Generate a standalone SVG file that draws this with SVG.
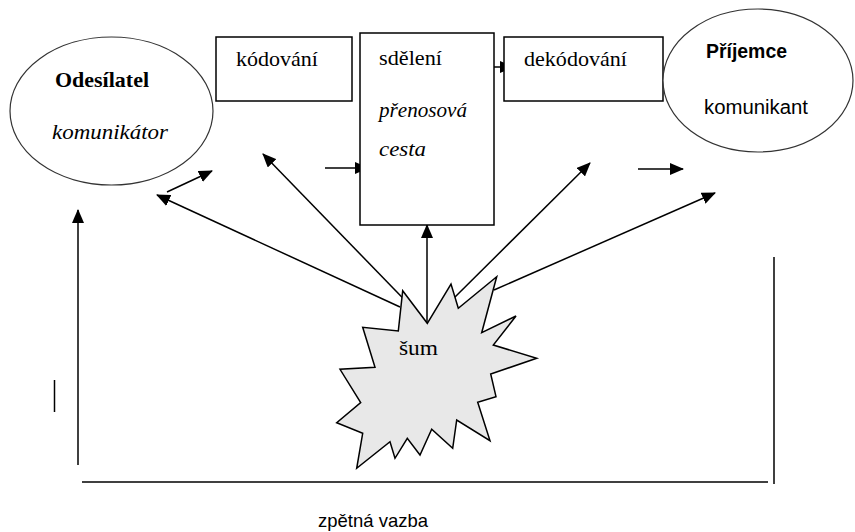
<svg xmlns="http://www.w3.org/2000/svg" width="855" height="532" viewBox="0 0 855 532">
<defs>
<marker id="ah" viewBox="0 0 14 12" refX="13" refY="6" markerWidth="14" markerHeight="12" markerUnits="userSpaceOnUse" orient="auto">
<path d="M0,0 L14,6 L0,12 Z" fill="#000"/>
</marker>
<style>
.box{fill:#fff;stroke:#000;stroke-width:1.5}
.ell{fill:#fff;stroke:#333;stroke-width:1.2}
.ln{stroke:#000;stroke-width:1.5;fill:none}
.arr{stroke:#000;stroke-width:1.5;fill:none}
</style>
</defs>
<rect width="855" height="532" fill="#fff"/>
<g id="connectors">
<line class="arr" x1="400" y1="307" x2="157" y2="195" marker-end="url(#ah)"/>
<line class="arr" x1="167" y1="192" x2="212" y2="171" marker-end="url(#ah)"/>
<line class="arr" x1="427" y1="323" x2="263" y2="154" marker-end="url(#ah)"/>
<line class="arr" x1="427" y1="323" x2="427" y2="225" marker-end="url(#ah)"/>
<line class="arr" x1="452" y1="300" x2="590" y2="163" marker-end="url(#ah)"/>
<line class="arr" x1="494" y1="290" x2="715" y2="193" marker-end="url(#ah)"/>
<line class="arr" x1="325" y1="168" x2="368" y2="168" marker-end="url(#ah)"/>
<line class="arr" x1="482" y1="67" x2="513" y2="67" marker-end="url(#ah)"/>
<line class="arr" x1="638" y1="169" x2="683" y2="169" marker-end="url(#ah)"/>
<line class="arr" x1="78" y1="465" x2="78" y2="210" marker-end="url(#ah)"/>
<line class="ln" x1="82" y1="482" x2="768" y2="482" stroke-width="2"/>
<line class="ln" x1="774" y1="257" x2="774" y2="484"/>
<line class="ln" x1="54.5" y1="380" x2="54.5" y2="412" stroke-width="2.5"/>
</g>
<g id="odesilatel">
<ellipse class="ell" cx="111.5" cy="111" rx="101.5" ry="74"/>
<text x="55" y="87" font-family="'Liberation Serif', 'Times New Roman', serif" font-size="22" font-weight="bold" textLength="94" lengthAdjust="spacingAndGlyphs">Odesílatel</text>
<text x="52" y="139" font-family="'Liberation Serif', 'Times New Roman', serif" font-size="22" font-style="italic" textLength="116" lengthAdjust="spacingAndGlyphs">komunikátor</text>
</g>
<g id="kodovani">
<rect class="box" x="216" y="37" width="136" height="64"/>
<text x="236" y="66" font-family="'Liberation Serif', 'Times New Roman', serif" font-size="22" textLength="82" lengthAdjust="spacingAndGlyphs">kódování</text>
</g>
<g id="sdeleni">
<rect class="box" x="360" y="33" width="134" height="192"/>
<text x="379" y="65" font-family="'Liberation Serif', 'Times New Roman', serif" font-size="22" textLength="63" lengthAdjust="spacingAndGlyphs">sdělení</text>
<text x="379" y="117" font-family="'Liberation Serif', 'Times New Roman', serif" font-size="22" font-style="italic" textLength="88" lengthAdjust="spacingAndGlyphs">přenosová</text>
<text x="379" y="156" font-family="'Liberation Serif', 'Times New Roman', serif" font-size="22" font-style="italic" textLength="47" lengthAdjust="spacingAndGlyphs">cesta</text>
</g>
<g id="dekodovani">
<rect class="box" x="504" y="37" width="159" height="64"/>
<text x="524" y="66" font-family="'Liberation Serif', 'Times New Roman', serif" font-size="22" textLength="103" lengthAdjust="spacingAndGlyphs">dekódování</text>
</g>
<g id="prijemce">
<ellipse class="ell" cx="758" cy="80.5" rx="95" ry="71.5"/>
<text x="706" y="58" font-family="'Liberation Sans', Arial, sans-serif" font-size="20" font-weight="bold" textLength="81" lengthAdjust="spacingAndGlyphs">Příjemce</text>
<text x="704" y="114" font-family="'Liberation Sans', Arial, sans-serif" font-size="20" textLength="104" lengthAdjust="spacingAndGlyphs">komunikant</text>
</g>
<g id="sum">
<polygon points="402.7,290.7 427.3,323.3 451,284 458.3,308.3 496.7,276.7 481.7,332.7 516,316 493.3,345 536.7,358.3 490.7,374 496,396.7 477.7,402.3 490,440.7 456.7,420 452.7,448.3 431.7,429.3 420,455 407.3,438.3 395,458.3 390,441.7 356.7,468.3 362.7,433.3 336.7,422.7 360.7,402.7 340,369.3 375,367.3 362.7,327.3 398.3,331" fill="#e8e8e8" stroke="#000" stroke-width="1.5"/>
<text x="399" y="355" font-family="'Liberation Serif', 'Times New Roman', serif" font-size="22" textLength="39" lengthAdjust="spacingAndGlyphs">šum</text>
</g>
<g id="zpetna-vazba">
<text x="318" y="527" font-family="'Liberation Sans', Arial, sans-serif" font-size="19" textLength="110" lengthAdjust="spacingAndGlyphs">zpětná vazba</text>
</g>
</svg>
